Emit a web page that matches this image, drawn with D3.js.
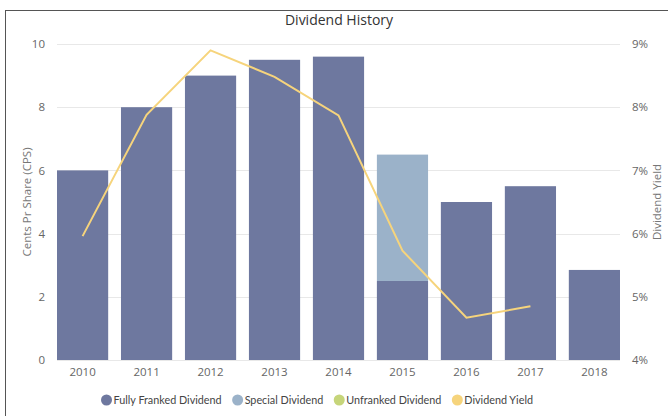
<!DOCTYPE html>
<html>
<head>
<meta charset="utf-8">
<script src="https://cdn.jsdelivr.net/npm/d3@7"></script>
<style>
  body { margin: 0; background: #fff; }
  svg { font-family: "Open Sans", sans-serif; }
</style>
</head>
<body>
<div class="dividend-chart-container"></div>
<script>
// Dividend history data
var years = ["2010", "2011", "2012", "2013", "2014", "2015", "2016", "2017", "2018"];
var fullyFranked = [6, 8, 9, 9.5, 9.6, 2.5, 5, 5.5, 2.85];
var special = [0, 0, 0, 0, 0, 4, 0, 0, 0];
var unfranked = [0, 0, 0, 0, 0, 0, 0, 0, 0];
var dividendYield = [5.96, 7.88, 8.9, 8.48, 7.87, 5.73, 4.67, 4.85, null];
var leftTicks = [0, 2, 4, 6, 8, 10];
var rightTicks = [4, 5, 6, 7, 8, 9];

var seriesNames = ["Fully Franked Dividend", "Special Dividend", "Unfranked Dividend", "Dividend Yield"];
var colors = ["#6e789f", "#9bb2c9", "#c6d57a", "#f6d47c"];

var W = 668, H = 416;
var margin = { top: 44, right: 48, bottom: 56, left: 57 },
    width = W - margin.left - margin.right,
    height = H - margin.top - margin.bottom;

var svg = d3.select(".dividend-chart-container")
    .append("svg")
    .attr("width", W)
    .attr("height", H);

// outer frame
svg.append("rect")
    .attr("x", 5.5).attr("y", 10.5)
    .attr("width", 700).attr("height", 450)
    .attr("fill", "none")
    .attr("stroke", "#555")
    .attr("stroke-width", 1);

svg.append("text")
    .attr("x", 339).attr("y", 25)
    .attr("text-anchor", "middle")
    .attr("font-size", 14)
    .attr("fill", "#333")
    .text("Dividend History");

var g = svg.append("g")
    .attr("transform", "translate(" + margin.left + "," + margin.top + ")");

var x = d3.scaleBand()
    .domain(years)
    .range([0, width])
    .paddingInner(0.2)
    .paddingOuter(0);

var y = d3.scaleLinear().domain([0, 10]).range([height, 0]);
var y2 = d3.scaleLinear().domain([4, 9]).range([height, 0]);

// gridlines
g.append("g")
    .selectAll("line")
    .data(leftTicks)
    .enter().append("line")
    .attr("x1", 0).attr("x2", width)
    .attr("y1", function(d) { return Math.round(y(d)) + 0.5; })
    .attr("y2", function(d) { return Math.round(y(d)) + 0.5; })
    .attr("stroke", "#e8e8e8");

var yAxis = d3.axisLeft(y).tickValues(leftTicks).tickSize(0).tickPadding(12);
var y2Axis = d3.axisRight(y2).tickValues(rightTicks).tickSize(0).tickPadding(12)
    .tickFormat(function(d) { return d + "%"; });
var xAxis = d3.axisBottom(x).tickSize(0).tickPadding(8);

function styleAxis(sel) {
    sel.select(".domain").remove();
    sel.selectAll("text").attr("fill", "#666").attr("font-size", 11.5)
        .attr("font-family", "Open Sans, sans-serif");
}

g.append("g").call(yAxis).call(styleAxis);
g.append("g").attr("transform", "translate(" + width + ",0)").call(y2Axis).call(styleAxis);
g.append("g").attr("transform", "translate(0," + height + ")").call(xAxis).call(styleAxis);

// stacked bars
var stackData = years.map(function(yr, i) {
    return { year: yr, ff: fullyFranked[i], sp: special[i], uf: unfranked[i] };
});
var stack = d3.stack().keys(["ff", "sp", "uf"]);
var layers = stack(stackData);

g.selectAll(".layer")
    .data(layers)
    .enter().append("g")
    .attr("class", "layer")
    .attr("fill", function(d, i) { return colors[i]; })
    .selectAll("rect")
    .data(function(d) { return d.filter(function(p) { return p[1] > p[0]; }); })
    .enter().append("rect")
    .attr("x", function(d) { return x(d.data.year); })
    .attr("y", function(d) { return y(d[1]); })
    .attr("width", x.bandwidth())
    .attr("height", function(d) { return y(d[0]) - y(d[1]); });

// yield line
var line = d3.line()
    .defined(function(d) { return d != null; })
    .x(function(d, i) { return x(years[i]) + x.bandwidth() / 2; })
    .y(function(d) { return y2(d); });

g.append("path")
    .datum(dividendYield)
    .attr("fill", "none")
    .attr("stroke", colors[3])
    .attr("stroke-width", 2)
    .attr("d", line);

// axis titles
svg.append("text")
    .attr("transform", "translate(31," + (margin.top + height / 2) + ") rotate(-90)")
    .attr("text-anchor", "middle")
    .attr("font-size", 11.5)
    .attr("fill", "#777")
    .text("Cents Pr Share (CPS)");

svg.append("text")
    .attr("transform", "translate(661," + (margin.top + height / 2) + ") rotate(-90)")
    .attr("text-anchor", "middle")
    .attr("font-size", 11.5)
    .attr("fill", "#777")
    .text("Dividend Yield");

// legend: items laid out from measured text widths, centred
var legend = svg.append("g").attr("transform", "translate(0,404)");
var item = legend.selectAll("g")
    .data(seriesNames)
    .enter().append("g");
item.append("circle")
    .attr("r", 5.5)
    .attr("cy", -4)
    .attr("fill", function(d, i) { return colors[i]; });
item.append("text")
    .attr("x", 7)
    .attr("font-family", "Lato, sans-serif")
    .attr("font-size", 10.8)
    .attr("fill", "#444")
    .text(function(d) { return d; });

var offsets = [], cx = 0;
item.each(function() {
    offsets.push(cx);
    cx += 7 + this.querySelector("text").getComputedTextLength() + 16;
});
var total = cx - 16 + 5.5;
var start = 317 - total / 2 + 5.5;
item.attr("transform", function(d, i) { return "translate(" + (start + offsets[i]) + ",0)"; });
</script>
</body>
</html>
